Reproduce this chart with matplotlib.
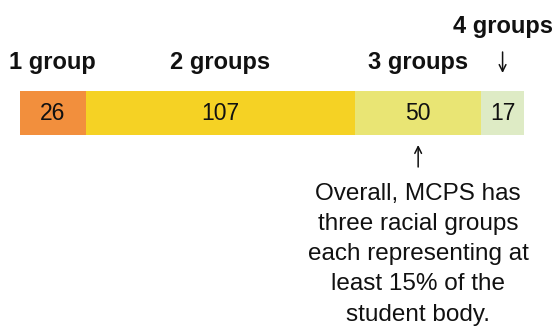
import matplotlib.pyplot as plt

plt.rcParams['font.family'] = ['Liberation Sans', 'DejaVu Sans']

groups = ['1 group', '2 groups', '3 groups', '4 groups']
counts = [26, 107, 50, 17]
colors = ['#F28F3D', '#F5D224', '#E9E574', '#DEEBC5']
note = 'Overall, MCPS has\nthree racial groups\neach representing at\nleast 15% of the\nstudent body.'

fig = plt.figure(figsize=(5.54, 3.26), dpi=100)
# axes in pixel-ish units: x is the school count, y runs top-down in pixels
ax = fig.add_axes([20 / 554, 0, 504 / 554, 1])
ax.set_xlim(0, sum(counts))
ax.set_ylim(326, 0)
ax.axis('off')

ink = '#111111'
bar_y = 113
left = 0
centers = []
for n, c in zip(counts, colors):
    ax.barh(bar_y, n, left=left, height=44, color=c, linewidth=0)
    mid = left + n / 2
    centers.append(mid)
    ax.text(mid, bar_y + 1, str(n), ha='center', va='center', fontsize=16.5, color=ink)
    left += n

arrow = dict(arrowstyle='->', color=ink, lw=1.1, mutation_scale=12, shrinkA=0, shrinkB=0)

# group labels above the bar; the last one sits higher with an arrow
for i, (g, x) in enumerate(zip(groups, centers)):
    if i < 3:
        ax.text(x, 63, g, ha='center', va='center', fontsize=17, fontweight='bold', color=ink)
    else:
        ax.text(x, 26, g, ha='center', va='center', fontsize=17, fontweight='bold', color=ink)
        ax.annotate('', xy=(x, 73), xytext=(x, 52), arrowprops=arrow)

# note under the 3-group segment
ax.annotate('', xy=(centers[2], 145), xytext=(centers[2], 167), arrowprops=arrow)
ax.text(centers[2], 183, note, ha='center', va='top', fontsize=17.5, linespacing=1.48, color=ink)

fig.savefig('out.png', dpi=100)
